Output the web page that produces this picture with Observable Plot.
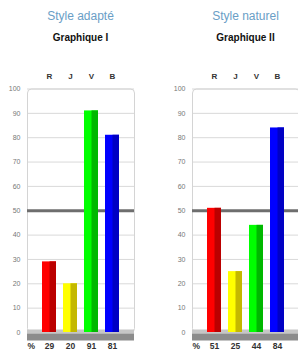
<!DOCTYPE html>
<html><head><meta charset="utf-8">
<script src="https://cdn.jsdelivr.net/npm/d3@7"></script>
<script src="https://cdn.jsdelivr.net/npm/@observablehq/plot@0.6"></script>
<style>
body{margin:0;background:#fff;font-family:"Liberation Sans",Arial,sans-serif;}
#wrap{width:298px;height:351px;overflow:hidden;display:flex;}
.panel{flex:0 0 165px;width:165px;height:351px;position:relative;}
.t{position:absolute;left:0;width:161px;text-align:center;white-space:nowrap;}
.t1{top:9px;font-size:12px;line-height:14px;color:#6a9ec6;}
.t2{top:32px;font-size:10px;line-height:12px;font-weight:bold;color:#111;}
.chart{position:absolute;top:60px;left:0;}
</style></head><body><div id="wrap"></div>
<script>
const categories = ["R", "J", "V", "B"];
const titles = ["Style adapté", "Style naturel"];
const subtitles = ["Graphique I", "Graphique II"];
const valuesI = [29, 20, 91, 81];
const valuesII = [51, 25, 44, 84];
const lightColors = ["#ff0000", "#ffff00", "#00ff00", "#0000ff"];
const darkColors = ["#bb0000", "#c4b800", "#00b800", "#0000c4"];
const yTicks = [0, 10, 20, 30, 40, 50, 60, 70, 80, 90, 100];
const referenceLine = [50];
const percentLabel = ["%"];

const series = [valuesI, valuesII];
const wrap = document.getElementById("wrap");

series.forEach((vals, i) => {
  const data = categories.map((c, j) => ({cat: c, value: vals[j], light: lightColors[j], dark: darkColors[j]}));
  const panel = document.createElement("div");
  panel.className = "panel";
  const t1 = document.createElement("div"); t1.className = "t t1"; t1.textContent = titles[i];
  const t2 = document.createElement("div"); t2.className = "t t2"; t2.textContent = subtitles[i];
  panel.append(t1, t2);
  const chart = Plot.plot({
    width: 165,
    height: 291,
    marginLeft: 27,
    marginRight: 31,
    marginTop: 28.5,
    marginBottom: 19,
    style: {fontFamily: "'Liberation Sans', Arial, sans-serif", background: "transparent", overflow: "visible"},
    x: {domain: categories, paddingInner: 0.31, paddingOuter: 0.62, axis: null},
    y: {domain: [0, 100], axis: null},
    color: {type: "identity"},
    marks: [
      Plot.gridY(yTicks.slice(1), {stroke: "#d9d9d9", strokeOpacity: 1}),
      Plot.frame({stroke: "#d4d4d4", rx: 4}),
      Plot.ruleY([0], {stroke: "#c6c6c6", strokeWidth: 4, dy: -1}),
      Plot.ruleY(referenceLine, {stroke: "#6e6e6e", strokeWidth: 3}),
      Plot.barY(data, {x: "cat", y: "value", fill: "light"}),
      Plot.barY(data, {x: "cat", y: "value", fill: "dark", insetLeft: 7.5}),
      Plot.ruleY([0], {stroke: "#8c8c8c", strokeWidth: 7, dy: 4.5}),
      Plot.axisY(yTicks, {tickSize: 0, tickPadding: 7, fontSize: 7, fill: "#777", label: null}),
      Plot.axisX({anchor: "top", tickSize: 0, tickPadding: 10, fontSize: 8, fontWeight: "bold", fill: "#333", label: null}),
      Plot.text(data, {x: "cat", text: d => String(d.value), frameAnchor: "bottom", dy: 16, fontSize: 8.5, fontWeight: "bold", fill: "#333"}),
      Plot.text(percentLabel, {text: d => d, frameAnchor: "bottom-left", textAnchor: "start", dx: 0, dy: 16, fontSize: 8.5, fontWeight: "bold", fill: "#333"})
    ]
  });
  chart.classList.add("chart");
  panel.append(chart);
  wrap.append(panel);
});
</script>
</body></html>
